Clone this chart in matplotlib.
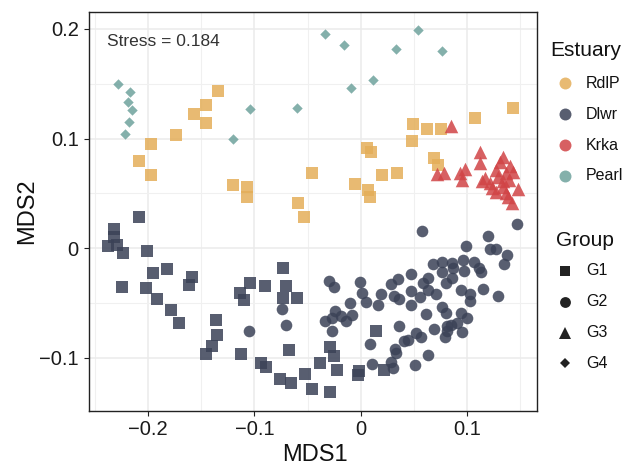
import matplotlib
matplotlib.use("Agg")
import matplotlib.pyplot as plt
from matplotlib.lines import Line2D
from matplotlib.ticker import MultipleLocator

plt.rcParams['font.family'] = ['Liberation Sans', 'DejaVu Sans']

# ---------------- data ----------------
estuaries = ['RdlP', 'Dlwr', 'Krka', 'Pearl']
groups = ['G1', 'G2', 'G3', 'G4']
stress_label = 'Stress = 0.184'

# RdlP, group G1 (squares)
rdlp_x = [-0.1343, -0.1452, -0.1569, -0.1452, -0.1741, -0.1979, -0.2086, -0.1979,
          -0.1205, -0.1073, -0.1070, -0.0586, -0.0455, -0.0056, -0.0536,
          0.0492, 0.0628, 0.0753, 0.1073, 0.1433, 0.0483, 0.0059, 0.0097,
          0.0687, 0.0731, 0.0200, 0.0342, 0.0066, 0.0091]
rdlp_y = [0.1430, 0.1303, 0.1221, 0.1145, 0.1030, 0.0955, 0.0800, 0.0666,
          0.0573, 0.0555, 0.0469, 0.0415, 0.0687, 0.0582, 0.0287,
          0.1136, 0.1087, 0.1091, 0.1187, 0.1278, 0.0978, 0.0918, 0.0878,
          0.0827, 0.0757, 0.0664, 0.0684, 0.0530, 0.0464]

# Dlwr, group G1 (squares)
dlwr_g1_x = [-0.2089, -0.2324, -0.2324, -0.2378, -0.2299, -0.2242, -0.2011, -0.2249,
             -0.2026, -0.1960, -0.1826, -0.1593, -0.1619, -0.1922, -0.1788, -0.1715,
             -0.1358, -0.1352, -0.1402, -0.1459, -0.1129, -0.1139, -0.1098, -0.1045,
             -0.0903, -0.0727, -0.0703, -0.0734, -0.0596, -0.0678, -0.0941, -0.0887,
             -0.0756, -0.0659, -0.0527, -0.0461, -0.0386, -0.0292, -0.0254, -0.0223,
             -0.0289, -0.0019, -0.0025, 0.0148, 0.0216]
dlwr_g1_y = [0.0287, 0.0173, 0.0105, 0.0021, 0.0030, -0.0045, -0.0029, -0.0355,
             -0.0364, -0.0227, -0.0191, -0.0258, -0.0334, -0.0458, -0.0567, -0.0685,
             -0.0652, -0.0794, -0.0894, -0.0964, -0.0964, -0.0404, -0.0470, -0.0318,
             -0.0340, -0.0176, -0.0343, -0.0455, -0.0449, -0.0925, -0.1045, -0.1082,
             -0.1191, -0.1224, -0.1145, -0.1285, -0.1049, -0.0904, -0.0982, -0.1113,
             -0.1313, -0.1120, -0.1158, -0.0752, -0.1113]

# Dlwr, group G2 (circles)
dlwr_g2_x = [-0.0298, -0.0254, -0.0009, 0.0009, 0.0047, 0.0188, 0.0167, 0.0282,
             0.0351, 0.0477, 0.0313, 0.0360, 0.0471, 0.0471, -0.0104, -0.0082,
             -0.0245, -0.0182, -0.0138, -0.0266, -0.0339, -0.0270, -0.0741, -0.0706,
             -0.1051, 0.0577, 0.1473, 0.1198, 0.1219, 0.1277, 0.1377, 0.1346,
             0.0988, 0.0960, 0.1071, 0.1115, 0.1129, 0.1148, 0.1296, 0.0969,
             0.0856, 0.0872, 0.0767, 0.0678, 0.0767, 0.0863, 0.0800, 0.0632,
             0.0588, 0.0633, 0.0710, 0.0560, 0.0948, 0.1033, 0.1026, 0.0762,
             0.0806, 0.0618, 0.0948, 0.0999, 0.0903, 0.0853, 0.0812, 0.0816,
             0.0790, 0.0953, 0.0687, 0.0524, 0.0571, 0.0445, 0.0405, 0.0358,
             0.0320, 0.0336, 0.0633, 0.0508, 0.0289, 0.0304, 0.0106, 0.0085]
dlwr_g2_y = [-0.0300, -0.0349, -0.0304, -0.0404, -0.0493, -0.0415, -0.0518, -0.0325,
             -0.0284, -0.0238, -0.0431, -0.0464, -0.0388, -0.0515, -0.0497, -0.0604,
             -0.0576, -0.0618, -0.0667, -0.0636, -0.0667, -0.0752, -0.0552, -0.0700,
             -0.0752, 0.0155, 0.0218, 0.0112, -0.0006, -0.0006, -0.0064, -0.0143,
             0.0021, -0.0111, -0.0129, -0.0182, -0.0213, -0.0373, -0.0438, -0.0205,
             -0.0134, -0.0177, -0.0125, -0.0143, -0.0218, -0.0273, -0.0313, -0.0273,
             -0.0318, -0.0384, -0.0413, -0.0440, -0.0382, -0.0415, -0.0481, -0.0531,
             -0.0593, -0.0602, -0.0591, -0.0635, -0.0682, -0.0695, -0.0706, -0.0758,
             -0.0809, -0.0764, -0.0734, -0.0770, -0.0809, -0.0834, -0.0849, -0.0713,
             -0.0918, -0.0954, -0.0970, -0.1067, -0.1038, -0.1094, -0.1054, -0.0873]

# Krka, group G3 (triangles)
krka_x = [0.0853, 0.1126, 0.1126, 0.1339, 0.1308, 0.1277, 0.1402, 0.1433, 0.0718,
          0.0784, 0.0979, 0.0932, 0.0957, 0.1145, 0.1214, 0.1292, 0.1339, 0.1371,
          0.1277, 0.1339, 0.1371, 0.1480, 0.1386, 0.1427, 0.1233, 0.1393, 0.1167]
krka_y = [0.1114, 0.0878, 0.0782, 0.0833, 0.0787, 0.0712, 0.0751, 0.0696, 0.0675,
          0.0682, 0.0727, 0.0682, 0.0627, 0.0614, 0.0591, 0.0651, 0.0614, 0.0682,
          0.0514, 0.0560, 0.0500, 0.0539, 0.0469, 0.0415, 0.0548, 0.0621, 0.0639]

# Pearl, group G4 (diamonds)
pearl_x = [-0.2284, -0.2171, -0.2190, -0.2158, -0.2183, -0.2218, -0.1045, -0.1205,
           -0.0596, -0.0332, -0.0157, -0.0091, 0.0539, 0.0336, 0.0765, 0.0116]
pearl_y = [0.1500, 0.1421, 0.1333, 0.1264, 0.1155, 0.1039, 0.1266, 0.0996,
           0.1278, 0.1951, 0.1851, 0.1457, 0.1993, 0.1818, 0.1796, 0.1533]

x_ticks = [-0.2, -0.1, 0.0, 0.1]
x_tick_labels = ['\u22120.2', '\u22120.1', '0', '0.1']
y_ticks = [-0.1, 0.0, 0.1, 0.2]
y_tick_labels = ['\u22120.1', '0', '0.1', '0.2']

# ---------------- styling ----------------
colors = {'RdlP': '#E4AE59', 'Dlwr': '#3B4257', 'Krka': '#D14446', 'Pearl': '#6EA29D'}
ALPHA = 0.85
W, H = 625, 466

fig = plt.figure(figsize=(W / 100, H / 100), dpi=100)
ax = fig.add_axes([88.5 / W, 1 - 410.5 / H, (537 - 88.5) / W, (410.5 - 11.6) / H])

ax.set_xlim(-0.2563, 0.1660)
ax.set_ylim(-0.1479, 0.2158)

ax.set_xticks(x_ticks)
ax.set_xticklabels(x_tick_labels)
ax.set_yticks(y_ticks)
ax.set_yticklabels(y_tick_labels)
ax.xaxis.set_minor_locator(MultipleLocator(0.05))
ax.yaxis.set_minor_locator(MultipleLocator(0.05))
ax.grid(True, which='major', color='#EBEBEB', linewidth=1.1, zorder=0)
ax.grid(True, which='minor', color='#F0F0F0', linewidth=0.8, zorder=0)
ax.set_axisbelow(True)
ax.tick_params(which='major', length=3.6, width=0.8, color='#222222',
               labelsize=14.5, labelcolor='#1a1a1a', pad=3.5)
ax.tick_params(which='minor', length=0)
for sp in ax.spines.values():
    sp.set_color('#222222')
    sp.set_linewidth(1.0)

ax.set_xlabel('MDS1', fontsize=17, color='#111111')
ax.set_ylabel('MDS2', fontsize=17, color='#111111')
ax.xaxis.set_label_coords(0.505, -0.1116)
ax.xaxis.label.set_va('center')
ax.yaxis.set_label_coords(-0.137, 0.5)
ax.yaxis.label.set_va('center')

ax.scatter(rdlp_x, rdlp_y, marker='s', s=64, c=colors['RdlP'], alpha=ALPHA, linewidths=0, zorder=3)
ax.scatter(dlwr_g1_x, dlwr_g1_y, marker='s', s=64, c=colors['Dlwr'], alpha=ALPHA, linewidths=0, zorder=3)
ax.scatter(dlwr_g2_x, dlwr_g2_y, marker='o', s=70, c=colors['Dlwr'], alpha=ALPHA, linewidths=0, zorder=3)
ax.scatter(krka_x, krka_y, marker='^', s=95, c=colors['Krka'], alpha=ALPHA, linewidths=0, zorder=3)
ax.scatter(pearl_x, pearl_y, marker='D', s=28, c=colors['Pearl'], alpha=ALPHA, linewidths=0, zorder=3)

fig.text(107 / W, 1 - 41 / H, stress_label, fontsize=12.5, color='#333333', va='center', ha='left')

# ---------------- legends (drawn by hand) ----------------
def fpt(px, py):
    return px / W, 1 - py / H

tx, ty = fpt(550, 50.7)
fig.text(tx, ty, 'Estuary', fontsize=15, color='#111111', va='center', ha='left')
est_y = [83.3, 114.3, 145.0, 175.7]
for name, py in zip(estuaries, est_y):
    mx, my = fpt(565, py)
    fig.add_artist(Line2D([mx], [my], marker='o', markersize=8.6, color=colors[name],
                          alpha=ALPHA, markeredgewidth=0, linestyle='none',
                          transform=fig.transFigure))
    lx, ly = fpt(586, py)
    fig.text(lx, ly, name, fontsize=11.5, color='#111111', va='center', ha='left')

tx, ty = fpt(556, 240.7)
fig.text(tx, ty, 'Group', fontsize=15, color='#111111', va='center', ha='left')
grp_y = [270.7, 301.7, 332.7, 363.3]
grp_marker = [('s', 7.4), ('o', 7.8), ('^', 8.8), ('D', 5.2)]
for name, py, (mk, ms) in zip(groups, grp_y, grp_marker):
    mx, my = fpt(565, py)
    fig.add_artist(Line2D([mx], [my], marker=mk, markersize=ms, color='#222222',
                          markeredgewidth=0, linestyle='none',
                          transform=fig.transFigure))
    lx, ly = fpt(586, py)
    fig.text(lx, ly, name, fontsize=11.5, color='#111111', va='center', ha='left')

fig.savefig('out.png', dpi=100)
